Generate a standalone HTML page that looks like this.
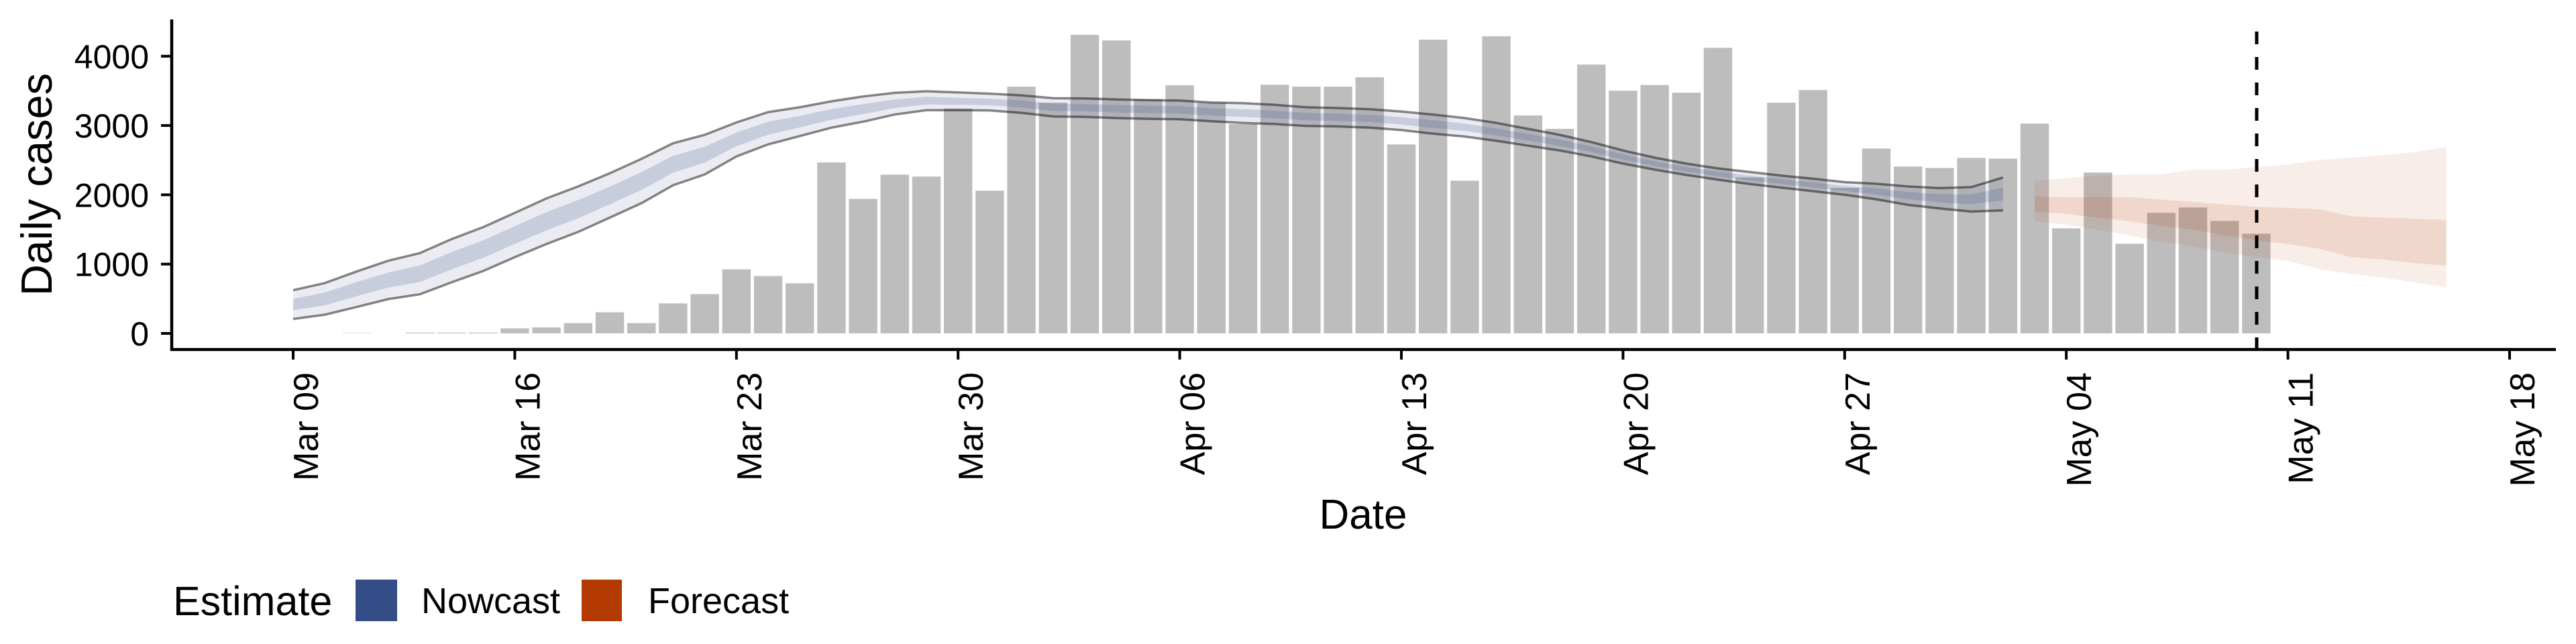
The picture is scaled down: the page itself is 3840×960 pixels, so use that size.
<!DOCTYPE html>
<html><head><meta charset="utf-8"><style>
html,body{margin:0;padding:0;background:#fff;}
svg{display:block;font-family:"Liberation Sans",Arial,sans-serif;}
</style></head><body>
<svg id="chart" width="3840" height="960" viewBox="0 0 3840 960" xmlns="http://www.w3.org/2000/svg">
<rect x="0" y="0" width="3840" height="960" fill="#fff"/>
<g id="bars"></g>
<g id="nowcast"></g>
<g id="forecast"></g>
<line x1="3364" y1="47" x2="3364" y2="521" stroke="#000" stroke-width="5" stroke-dasharray="19 19"/>
<g id="axes"></g>
<text x="77" y="275" transform="rotate(-90 77 275)" font-size="65" text-anchor="middle">Daily cases</text>
<text x="2032" y="788" font-size="62" text-anchor="middle">Date</text>
<g>
<text x="258" y="917" font-size="61">Estimate</text>
<rect x="530" y="864" width="62" height="62" fill="#354d86"/>
<text x="628" y="914" font-size="54">Nowcast</text>
<rect x="867" y="864" width="60" height="62" fill="#b33a00"/>
<text x="966" y="914" font-size="54">Forecast</text>
</g>
</svg>
<script>
// data (day 0 = Mar 09)
const cases = [0,0,5,0,12,12,12,73,86,149,305,149,433,567,924,827,723,2467,1941,2291,2263,3246,2059,3561,3330,4308,4228,3380,3581,3330,3021,3588,3561,3561,3696,2727,4239,2204,4287,3145,2952,3879,3502,3585,3474,4121,2250,3329,3512,2100,2668,2408,2388,2533,2522,3028,1516,2322,1294,1740,1817,1623,1439];
const nowUpper = [623,727,893,1048,1159,1360,1533,1740,1948,2121,2311,2519,2744,2865,3045,3194,3263,3349,3419,3471,3495,3478,3460,3436,3394,3391,3377,3367,3360,3332,3322,3298,3263,3253,3235,3201,3159,3107,3038,2952,2865,2761,2640,2536,2450,2381,2329,2277,2232,2183,2160,2121,2097,2111,2249];
const nowLower = [208,270,380,495,564,737,900,1100,1290,1464,1671,1879,2138,2294,2554,2727,2848,2969,3055,3159,3221,3221,3218,3183,3131,3125,3107,3097,3090,3062,3038,3021,2993,2986,2969,2934,2882,2841,2779,2709,2640,2554,2450,2363,2287,2218,2156,2104,2052,2000,1935,1855,1803,1758,1775];
const nowInnerHi = [500,590,740,880,980,1173,1343,1548,1751,1924,2119,2327,2562,2694,2898,3054,3139,3235,3310,3377,3413,3401,3387,3360,3315,3311,3296,3286,3279,3251,3237,3215,3182,3173,3155,3121,3076,3027,2960,2879,2798,2699,2583,2484,2401,2332,2277,2225,2178,2128,2093,2041,2009,2005,2107];
const nowInnerLo = [335,405,535,660,742,924,1090,1292,1487,1661,1863,2071,2320,2465,2701,2867,2972,3083,3164,3253,3303,3298,3291,3259,3210,3205,3188,3178,3171,3143,3123,3104,3074,3066,3049,3014,2965,2921,2857,2782,2708,2616,2507,2415,2336,2267,2208,2156,2106,2055,2003,1935,1891,1864,1917];
const fcStart = 55;
const fcUpper = [2197,2242,2277,2294,2294,2363,2363,2398,2439,2502,2536,2571,2616,2692];
const fcLower = [1619,1567,1498,1412,1325,1256,1170,1100,1048,927,858,806,737,668];
const fcInnerHi = [1976,1965,1965,1965,1931,1896,1862,1827,1810,1792,1689,1671,1654,1637];
const fcInnerLo = [1758,1723,1671,1619,1550,1498,1412,1343,1291,1221,1100,1066,1014,979];
const yTicks = [0,1000,2000,3000,4000];
const xTickDays = [0,7,14,21,28,35,42,49,56,63,70];
const xTickLabels = ["Mar 09","Mar 16","Mar 23","Mar 30","Apr 06","Apr 13","Apr 20","Apr 27","May 04","May 11","May 18"];

const NS = "http://www.w3.org/2000/svg";
function xs(d){ return 437 + d*47.2; }
function ys(v){ return 497 - v*0.1033; }
function mk(tag, attrs, parent){ const e=document.createElementNS(NS,tag); for(const k in attrs) e.setAttribute(k,attrs[k]); parent.appendChild(e); return e; }

const gb = document.getElementById('bars');
cases.forEach((v,i)=>{
  if(v<=0) return;
  const r = mk('rect',{x:xs(i)-21.2,y:ys(v),width:42.4,height:Math.max(0.5,ys(0)-ys(v)),fill:'#bdbdbd'},gb);
  
  
});

function ribbon(hi, lo, start){
  let p = '';
  hi.forEach((v,i)=>{ p += (i?'L':'M') + xs(start+i).toFixed(1) + ',' + ys(v).toFixed(1); });
  for(let i=lo.length-1;i>=0;i--) p += 'L' + xs(start+i).toFixed(1) + ',' + ys(lo[i]).toFixed(1);
  return p + 'Z';
}
function line(vals, start){
  let p=''; vals.forEach((v,i)=>{ p += (i?'L':'M') + xs(start+i).toFixed(1) + ',' + ys(v).toFixed(1); }); return p;
}
const gn = document.getElementById('nowcast');
let e;
e = mk('path',{d:ribbon(nowUpper,nowLower,0),fill:'rgba(60,84,136,0.11)'},gn);


e = mk('path',{d:ribbon(nowInnerHi,nowInnerLo,0),fill:'rgba(60,84,136,0.2)'},gn);


e = mk('path',{d:line(nowUpper,0),fill:'none',stroke:'rgba(0,0,0,0.47)','stroke-width':3.5},gn);


e = mk('path',{d:line(nowLower,0),fill:'none',stroke:'rgba(0,0,0,0.47)','stroke-width':3.5},gn);



const gf = document.getElementById('forecast');
e = mk('path',{d:ribbon(fcUpper,fcLower,fcStart),fill:'rgba(179,58,0,0.09)'},gf);


e = mk('path',{d:ribbon(fcInnerHi,fcInnerLo,fcStart),fill:'rgba(179,58,0,0.12)'},gf);



const ga = document.getElementById('axes');
e = mk('line',{x1:256,y1:29,x2:256,y2:523,stroke:'#000','stroke-width':4.5},ga);


e = mk('line',{x1:254,y1:521,x2:3810,y2:521,stroke:'#000','stroke-width':4.5},ga);


yTicks.forEach(v=>{
  const y = ys(v);
  const t = mk('line',{x1:240,y1:y,x2:256,y2:y,stroke:'#000','stroke-width':4},ga);
  
  
  const l = mk('text',{x:222,y:y+18,'font-size':50,'text-anchor':'end'},ga);
  l.textContent = String(v);
  
  
});
xTickDays.forEach((d,i)=>{
  const x = xs(d);
  const t = mk('line',{x1:x,y1:521,x2:x,y2:536,stroke:'#000','stroke-width':4},ga);
  
  
  const lx = x+37, ly = 555;
  const l = mk('text',{x:lx,y:ly,'font-size':52,'text-anchor':'end',transform:'rotate(-90 '+lx+' '+ly+')'},ga);
  l.textContent = xTickLabels[i];
  
  
});
</script>
</body></html>
